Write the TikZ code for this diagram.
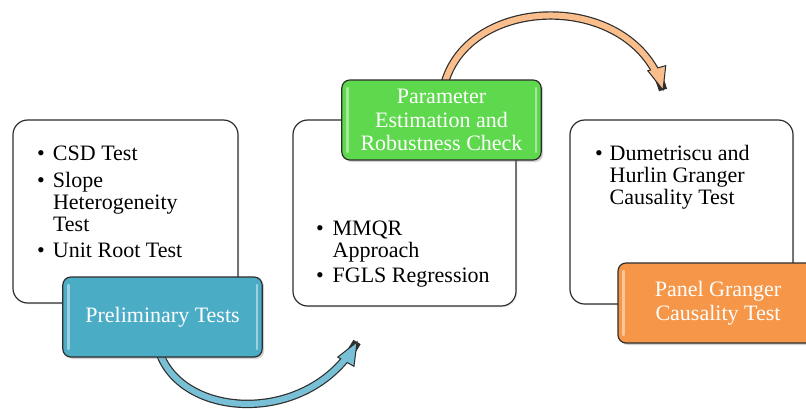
\documentclass[tikz,border=0pt]{standalone}
\usepackage{fontspec}
\setmainfont{Liberation Serif}
\usetikzlibrary{shapes.geometric,shadows,calc}
\definecolor{boxblue}{RGB}{75,172,198}
\definecolor{boxgreen}{RGB}{94,216,76}
\definecolor{boxorange}{RGB}{246,150,72}
\definecolor{arrowor}{RGB}{250,190,140}
\definecolor{arrowbl}{RGB}{120,192,214}
\definecolor{edgegray}{RGB}{45,45,45}
\tikzset{
  listbox/.style={draw=edgegray, line width=0.9pt, rounded corners=11pt, fill=white,
    inner sep=0pt, outer sep=0pt,
    drop shadow={opacity=0.12, shadow xshift=1pt, shadow yshift=-1pt}},
  labelbox/.style={draw=edgegray, line width=0.9pt, rounded corners=6pt,
    inner sep=0pt, outer sep=0pt, text=white, align=center,
    font=\fontsize{16.5}{17.6}\selectfont,
    minimum width=149.5pt, minimum height=60pt,
    drop shadow={opacity=0.35, shadow xshift=1.5pt, shadow yshift=-1.5pt},
    path picture={
      \draw[white, opacity=0.45, line width=2pt, line cap=round]
        ($(path picture bounding box.north west)+(4pt,-6pt)$) --
        ($(path picture bounding box.south west)+(4pt,6pt)$);
      \draw[white, opacity=0.45, line width=2pt, line cap=round]
        ($(path picture bounding box.north east)+(-4pt,-6pt)$) --
        ($(path picture bounding box.south east)+(-4pt,6pt)$);
    }},
  listtext/.style={anchor=base west, inner sep=0pt, outer sep=0pt,
    font=\fontsize{16.5}{16.5}\selectfont},
  shaftout/.style={draw=edgegray, line width=6.3pt},
  shaftin/.style={line width=4.5pt},
  tiphead/.style={isosceles triangle, isosceles triangle stretches,
    minimum width=14pt, minimum height=17pt, inner sep=0pt, outer sep=0pt,
    draw=edgegray, line width=0.75pt, sloped, allow upside down,
    anchor=apex, pos=1}
}
\newcommand{\bul}{\textbullet}
\begin{document}
\begin{tikzpicture}[x=0.75pt, y=-0.75pt]
\useasboundingbox (0,0) rectangle (806,408);
\clip (0,0) rectangle (806,408);
\fill[white] (0,0) rectangle (806,408);

% white list boxes
\node[listbox, minimum width=168.75pt, minimum height=137.25pt] (b1) at (125.5,211.5) {};
\node[listbox, minimum width=167.25pt, minimum height=139.5pt] (b2) at (404.5,213) {};
\node[listbox, minimum width=167.25pt, minimum height=138pt] (b3) at (681.5,212) {};

% list texts
\node[listtext] (l1) at (37,160) {\begin{tabular}[t]{@{}p{12pt}@{}l@{}}
\bul & CSD Test\\[4pt]
\bul & Slope\\
 & Heterogeneity\\
 & Test\\[3pt]
\bul & Unit Root Test
\end{tabular}};
\node[listtext] (l2) at (316,235) {\begin{tabular}[t]{@{}p{12.5pt}@{}l@{}}
\bul & MMQR\\
 & Approach\\[2.5pt]
\bul & FGLS Regression
\end{tabular}};
\node[listtext] (l3) at (595,160) {\begin{tabular}[t]{@{}p{11pt}@{}l@{}}
\bul & Dumetriscu and\\
 & Hurlin Granger\\
 & Causality Test
\end{tabular}};

% connector endpoints
\coordinate (s1) at (160,354);
\coordinate (t1) at (357,342);
\coordinate (e1) at (349.38,353.79);
\coordinate (s2) at (445,82);
\coordinate (t2) at (663,90);
\coordinate (e2) at (657.82,76.03);

% bottom arrow (blue)
\draw[shaftout] (s1) .. controls (185,420) and (310,425) .. (t1)
  node[tiphead, fill=arrowbl] (h1) {};
\draw[shaftin, arrowbl] (s1) .. controls (183.75,416.7) and (297.75,424.35) .. (e1);

% top arrow (orange)
\draw[shaftout] (s2) .. controls (472,-8) and (635,-8) .. (t2)
  node[tiphead, fill=arrowor] (h2) {};
\draw[shaftin, arrowor] (s2) .. controls (470.65,-3.5) and (619.04,-7.78) .. (e2);

% coloured label boxes
\node[labelbox, fill=boxblue] (pre) at (162.5,317) {Preliminary Tests};
\node[labelbox, fill=boxgreen] (par) at (441.5,120) {Parameter\\Estimation and\\Robustness Check};
\node[labelbox, fill=boxorange, minimum width=150pt] (pan) at (718,303) {Panel Granger\\Causality Test};
\end{tikzpicture}
\end{document}
